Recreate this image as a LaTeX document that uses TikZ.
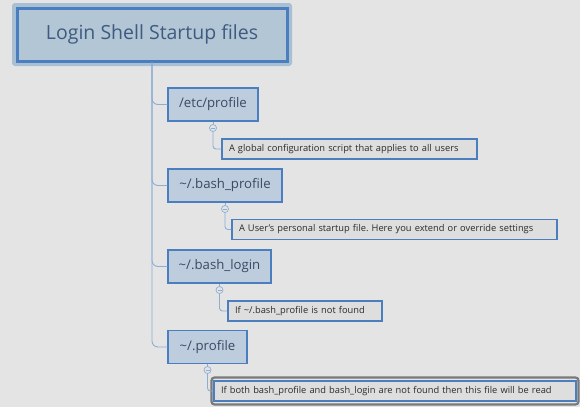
\documentclass[tikz,border=0pt]{standalone}
\usepackage{fontspec}
\setmainfont{Open Sans}
\frenchspacing
\definecolor{bg}{HTML}{E4E4E4}
\definecolor{titlefill}{HTML}{B3C6D6}
\definecolor{boxborder}{HTML}{4A7EBF}
\definecolor{halo}{HTML}{A9BFD3}
\definecolor{childfill}{HTML}{BDCDDE}
\definecolor{trunkcol}{HTML}{8CAED6}
\definecolor{notefill}{HTML}{DEDEDE}
\definecolor{titletext}{HTML}{3F5B7F}
\definecolor{childtext}{HTML}{3A4A63}
\definecolor{notetext}{HTML}{2A2A2A}
\definecolor{selgray}{HTML}{7A7A7A}
\tikzset{
  titlebox/.style={draw=boxborder, line width=3pt, fill=titlefill, minimum width=270pt, minimum height=53pt, inner sep=0pt, text=titletext, font=\fontsize{19.5}{23}\selectfont},
  childbox/.style={draw=boxborder, line width=1.3pt, fill=childfill, minimum height=33pt, inner sep=0pt, text=childtext, font=\fontsize{13.2}{16}\selectfont},
  notebox/.style={draw=boxborder, line width=1.8pt, fill=notefill, minimum height=20pt, inner ysep=0pt, inner xsep=7pt, text width=#1-14pt, align=left, text=notetext, font=\fontsize{9.3}{11}\selectfont, execute at begin node={\hyphenpenalty=10000\relax\frenchspacing}},
  trunk/.style={draw=trunkcol, line width=0.9pt, rounded corners=6pt},
  togglec/.style={circle, draw=trunkcol, fill=bg, line width=0.7pt, minimum size=7pt, inner sep=0pt},
  minusline/.style={draw=trunkcol, line width=0.6pt}
}
\begin{document}
\begin{tikzpicture}[x=1pt,y=-1pt]
\fill[bg] (0,0) rectangle (580,407);
\useasboundingbox (0,0) rectangle (580,407);
% title halo
\fill[halo, rounded corners=3pt] (12,3) rectangle (292,66);
\node[titlebox] (title) at (152,34.5) {Login Shell Startup files};

% children
\node[childbox, minimum width=90pt] (e1) at (213,104.5) {/etc/profile};
\node[childbox, minimum width=114pt] (e2) at (225,185.5) {\textasciitilde/.bash\_profile};
\node[childbox, minimum width=103pt] (e3) at (219.5,266.5) {\textasciitilde/.bash\_login};
\node[childbox, minimum width=79pt] (e4) at (207.5,347) {\textasciitilde/.profile};

% trunk connectors
\draw[trunk] (title.south) |- (e1.west);
\draw[trunk] (title.south) |- (e2.west);
\draw[trunk] (title.south) |- (e3.west);
\draw[trunk] (title.south) |- (e4.west);

% notes
\node[notebox=255pt] (n1) at (349.5,149) {\mbox{A global configuration script that applies to all users}};
\node[notebox=325pt] (n2) at (394.5,229.5) {\mbox{A User's personal startup file. Here you extend or override settings}};
\node[notebox=154pt] (n3) at (305,311) {\mbox{If \textasciitilde/.bash\_profile is not found}};
\draw[selgray, line width=2.2pt, rounded corners=3pt] (211.5,377.5) rectangle (578.5,404.5);
\node[notebox=362pt] (n4) at (395,391) {\mbox{If both bash\_profile and bash\_login are not found then this file will be read}};

% toggles
\node[togglec] (c1) at (213,128) {};
\node[togglec] (c2) at (225,209) {};
\node[togglec] (c3) at (219.5,290) {};
\node[togglec] (c4) at (207.5,370) {};
\draw[trunk] (e1.south) -- (c1.north);
\draw[trunk] (e2.south) -- (c2.north);
\draw[trunk] (e3.south) -- (c3.north);
\draw[trunk] (e4.south) -- (c4.north);
\draw[trunk, rounded corners=3pt] (c1.south) |- (n1.west);
\draw[trunk, rounded corners=3pt] (c2.south) |- (n2.west);
\draw[trunk, rounded corners=3pt] (c3.south) |- (n3.west);
\draw[trunk, rounded corners=3pt] (c4.south) |- (n4.west);
\foreach \c in {c1,c2,c3,c4}{
  \draw[minusline] ([xshift=-2pt]\c.center) -- ([xshift=2pt]\c.center);
}
\end{tikzpicture}
\end{document}
